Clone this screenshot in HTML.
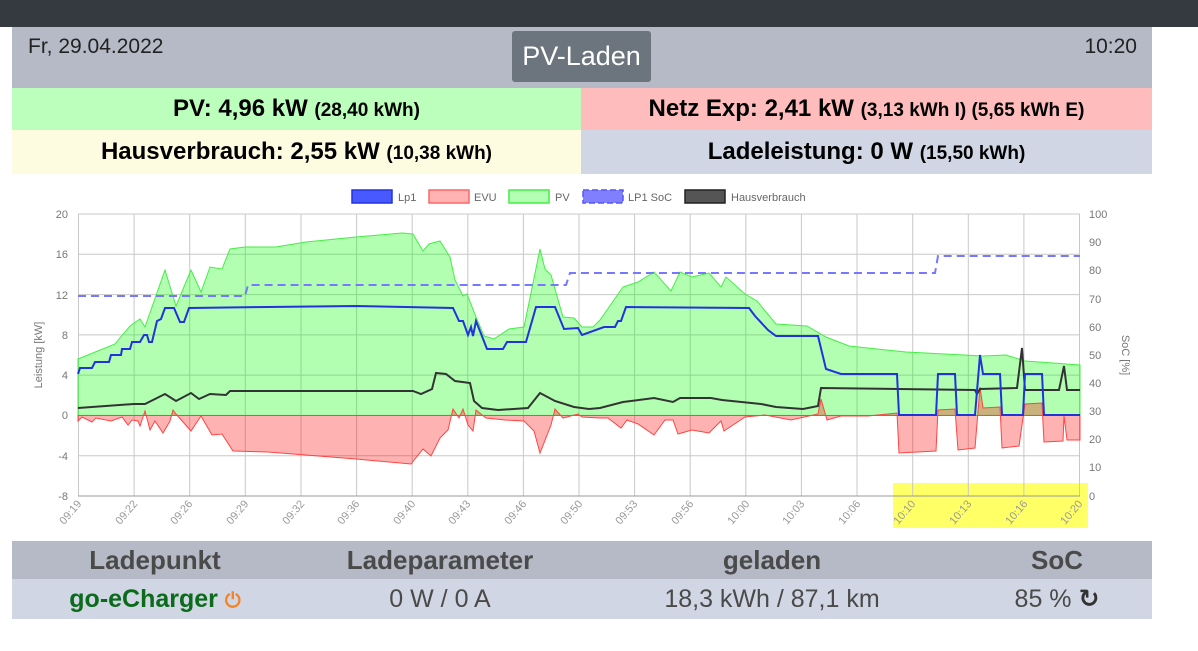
<!DOCTYPE html>
<html><head><meta charset="utf-8"><style>
*{margin:0;padding:0;box-sizing:border-box}
body{width:1198px;height:651px;background:#fff;font-family:"Liberation Sans","DejaVu Sans",sans-serif;position:relative;overflow:hidden}
.a{position:absolute}
.b{font-weight:bold;font-size:24px;color:#000;text-align:center;line-height:42px;white-space:nowrap}
.b small{font-size:19px}
.th{font-weight:bold;font-size:26px;color:#4a4a4a;text-align:center;top:541px;line-height:38px;white-space:nowrap}
.td{font-size:25px;color:#4a4a4a;text-align:center;top:579px;line-height:40px;white-space:nowrap}
</style></head><body>
<div class="a" style="left:0;top:0;width:1198px;height:27px;background:#343a40"></div>
<div class="a" style="left:12px;top:27px;width:1140px;height:61px;background:#b5bac6"></div>
<div class="a" style="left:28px;top:35px;font-size:21px;color:#222">Fr, 29.04.2022</div>
<div class="a" style="left:512px;top:31px;width:139px;height:51px;background:#6c757d;border-radius:3px;color:#fff;font-size:27px;line-height:51px;text-align:center">PV-Laden</div>
<div class="a" style="right:61px;top:35px;font-size:21px;color:#222">10:20</div>
<div class="a b" style="left:12px;top:88px;width:569px;height:42px;background:#bcffbc">PV: 4,96 kW <small>(28,40 kWh)</small></div>
<div class="a b" style="left:581px;top:88px;width:571px;height:42px;background:#ffbcbc">Netz Exp: 2,41 kW <small>(3,13 kWh I) (5,65 kWh E)</small></div>
<div class="a b" style="left:12px;top:130px;width:569px;height:44px;line-height:44px;background:#fefce0">Hausverbrauch: 2,55 kW <small>(10,38 kWh)</small></div>
<div class="a b" style="left:581px;top:130px;width:571px;height:44px;line-height:44px;background:#d1d6e4">Ladeleistung: 0 W <small>(15,50 kWh)</small></div>

<svg class="a" style="left:0;top:0" width="1198" height="651" viewBox="0 0 1198 651" font-family="Liberation Sans, sans-serif">
<rect x="893" y="483" width="195" height="45" fill="#ffff66"/>
<g stroke="#c8c8c8" stroke-width="1">
<line x1="78" y1="214" x2="1080" y2="214"/><line x1="78" y1="254.3" x2="1080" y2="254.3"/><line x1="78" y1="294.6" x2="1080" y2="294.6"/><line x1="78" y1="334.9" x2="1080" y2="334.9"/><line x1="78" y1="375.1" x2="1080" y2="375.1"/><line x1="78" y1="415.4" x2="1080" y2="415.4"/><line x1="78" y1="455.7" x2="1080" y2="455.7"/>
<line x1="78.5" y1="214" x2="78.5" y2="496"/><line x1="134.1" y1="214" x2="134.1" y2="496"/><line x1="189.7" y1="214" x2="189.7" y2="496"/><line x1="245.3" y1="214" x2="245.3" y2="496"/><line x1="301" y1="214" x2="301" y2="496"/><line x1="356.6" y1="214" x2="356.6" y2="496"/><line x1="412.2" y1="214" x2="412.2" y2="496"/><line x1="467.8" y1="214" x2="467.8" y2="496"/><line x1="523.4" y1="214" x2="523.4" y2="496"/><line x1="579" y1="214" x2="579" y2="496"/><line x1="634.6" y1="214" x2="634.6" y2="496"/><line x1="690.2" y1="214" x2="690.2" y2="496"/><line x1="745.8" y1="214" x2="745.8" y2="496"/><line x1="801.4" y1="214" x2="801.4" y2="496"/><line x1="857" y1="214" x2="857" y2="496"/><line x1="912.7" y1="214" x2="912.7" y2="496"/><line x1="968.3" y1="214" x2="968.3" y2="496"/><line x1="1023.9" y1="214" x2="1023.9" y2="496"/><line x1="1079.5" y1="214" x2="1079.5" y2="496"/>
</g>
<line x1="78" y1="496" x2="1080" y2="496" stroke="#999"/>
<polygon fill="rgba(0,255,0,0.3)" stroke="#44ee44" stroke-width="1" points="78,415.5 78,359 115,344 130,326 140,319 145,327 165,270 176,306 191,270 201,292 210,267 222,269 230,249 245,247 276,247 306,242 356,237 402,233 413,234 423,251 429,244 440,241 450,257 455,280 463,296 467,294 476,317 484,336 494,339 509,329 524,327 540,249 545,269 551,275 563,317 574,318 582,327 593,327 600,320 623,287 638,282 654,272 671,291 680,272 692,277 709,273 721,287 726,277 745,294 757,301 776,324 807,326 826,337 849,346 906,352 983,356 1006,355 1025,361 1080,365 1080,415.5"/>
<polygon fill="rgba(255,0,0,0.3)" stroke="#ff4444" stroke-width="1" points="78,415.5 78,421 82,417 92,422 96,418 111,421 122,417 128,425 132,420 138,421 140,426 145,411 150,430 155,421 163,433 170,421 173,410 176,414 191,431 201,416 212,435 222,434 233,451 268,452 356,459 411,464 423,449 431,456 440,438 448,430 453,409 459,418 463,409 468,425 473,431 476,410 486,418 505,420 524,421 534,431 540,453 551,425 555,409 563,418 578,414 582,417 600,418 608,418 621,428 627,420 638,424 654,435 665,420 673,420 678,434 692,430 709,433 721,421 724,431 745,417 765,415 791,420 818,414 821,399 827,420 841,416 868,416 897,413 899,453 936,451 938,410 955,409 958,450 975,448 980,387 983,408 1000,407 1002,448 1019,446 1025,404 1042,403 1044,442 1063,441 1064,416 1067,440 1080,440 1080,415.5"/>
<polyline fill="none" stroke="#333" stroke-width="2" points="78,408 134,404 145,404 165,394 176,401 191,393 199,399 210,394 226,395 230,391 413,391 421,394 432,389 436,373 446,374 455,381 470,383 474,401 482,408 498,410 528,408 540,393 555,401 574,407 589,409 600,408 623,402 654,398 673,402 680,398 711,398 722,400 761,404 776,407 803,409 818,406 821,388 975,390 977,394 980,389 1017,388 1022,348 1025,390 1059,390 1064,366 1067,390 1080,390"/>
<polyline fill="none" stroke="#2233dd" stroke-width="2" points="78,374 80,368 92,368 95,362 109,362 111,355 121,355 122,349 130,349 132,342 140,342 144,335 147,335 149,342 152,342 157,321 161,319 165,308 174,308 180,322 184,322 189,308 268,307 356,306 453,308 459,321 463,321 468,335 471,327 473,336 476,321 487,349 503,349 507,342 526,342 536,307 555,307 564,329 578,328 582,335 604,327 615,327 618,321 621,321 626,307 749,308 755,316 768,330 776,336 818,336 826,369 841,374 897,374 899,415 936,415 938,374 955,374 957,415 975,415 980,355 983,374 1000,374 1002,415 1023,415 1025,374 1042,374 1044,415 1080,415"/>
<polyline fill="none" stroke="#7777ff" stroke-width="2" stroke-dasharray="8,5" points="78,296 245,296 248,285 566,285 570,273 935,273 938,256 1080,256"/>
<g font-size="11" fill="#666">
<rect x="352" y="190" width="40" height="13" fill="rgba(40,60,255,0.85)" stroke="#2233dd" stroke-width="1.5"/><text x="398" y="201">Lp1</text>
<rect x="429" y="190" width="40" height="13" fill="#ffb3b3" stroke="#ff6666" stroke-width="1.5"/><text x="474" y="201">EVU</text>
<rect x="509" y="190" width="40" height="13" fill="#b3ffb3" stroke="#44ee44" stroke-width="1.5"/><text x="555" y="201">PV</text>
<rect x="583" y="190" width="40" height="13" fill="#8080ff" stroke="#5555ff" stroke-width="1.5" stroke-dasharray="6,3"/><text x="628" y="201">LP1 SoC</text>
<rect x="685" y="190" width="40" height="13" fill="#555" stroke="#222" stroke-width="1.5"/><text x="731" y="201">Hausverbrauch</text>
</g>
<g font-size="11" fill="#777" text-anchor="end">
<text x="68" y="218">20</text><text x="68" y="258">16</text><text x="68" y="299">12</text><text x="68" y="339">8</text><text x="68" y="379">4</text><text x="68" y="419">0</text><text x="68" y="460">-4</text><text x="68" y="500">-8</text>
</g>
<g font-size="11" fill="#777">
<text x="1089" y="218">100</text><text x="1089" y="246">90</text><text x="1089" y="274">80</text><text x="1089" y="303">70</text><text x="1089" y="331">60</text><text x="1089" y="359">50</text><text x="1089" y="387">40</text><text x="1089" y="415">30</text><text x="1089" y="443">20</text><text x="1089" y="471">10</text><text x="1089" y="500">0</text>
</g>
<text transform="translate(42,355) rotate(-90)" font-size="11" fill="#777" text-anchor="middle">Leistung [kW]</text>
<text transform="translate(1122,355) rotate(90)" font-size="11" fill="#777" text-anchor="middle">SoC [%]</text>
<g font-size="11" fill="#999" text-anchor="end">
<text transform="translate(82,504) rotate(-50)">09:19</text>
<text transform="translate(138,504) rotate(-50)">09:22</text>
<text transform="translate(193,504) rotate(-50)">09:26</text>
<text transform="translate(249,504) rotate(-50)">09:29</text>
<text transform="translate(305,504) rotate(-50)">09:32</text>
<text transform="translate(360,504) rotate(-50)">09:36</text>
<text transform="translate(416,504) rotate(-50)">09:40</text>
<text transform="translate(471,504) rotate(-50)">09:43</text>
<text transform="translate(527,504) rotate(-50)">09:46</text>
<text transform="translate(583,504) rotate(-50)">09:50</text>
<text transform="translate(638,504) rotate(-50)">09:53</text>
<text transform="translate(694,504) rotate(-50)">09:56</text>
<text transform="translate(750,504) rotate(-50)">10:00</text>
<text transform="translate(805,504) rotate(-50)">10:03</text>
<text transform="translate(861,504) rotate(-50)">10:06</text>
<text transform="translate(916,504) rotate(-50)">10:10</text>
<text transform="translate(972,504) rotate(-50)">10:13</text>
<text transform="translate(1028,504) rotate(-50)">10:16</text>
<text transform="translate(1083,504) rotate(-50)">10:20</text>
</g>
</svg>

<div class="a" style="left:12px;top:541px;width:1140px;height:38px;background:#b5bac6"></div>
<div class="a" style="left:12px;top:579px;width:1140px;height:40px;background:#d1d6e4"></div>
<div class="a th" style="left:55px;width:200px">Ladepunkt</div>
<div class="a th" style="left:290px;width:300px">Ladeparameter</div>
<div class="a th" style="left:622px;width:300px">geladen</div>
<div class="a th" style="left:957px;width:200px">SoC</div>
<div class="a td" style="left:55px;width:200px;color:#0a6b1a;font-weight:bold">go-eCharger <span style="color:#f58220;font-size:20px">&#9211;</span></div>
<div class="a td" style="left:290px;width:300px">0 W / 0 A</div>
<div class="a td" style="left:622px;width:300px">18,3 kWh / 87,1 km</div>
<div class="a td" style="left:957px;width:200px">85 % <b style="color:#333">&#8635;</b></div>
</body></html>
